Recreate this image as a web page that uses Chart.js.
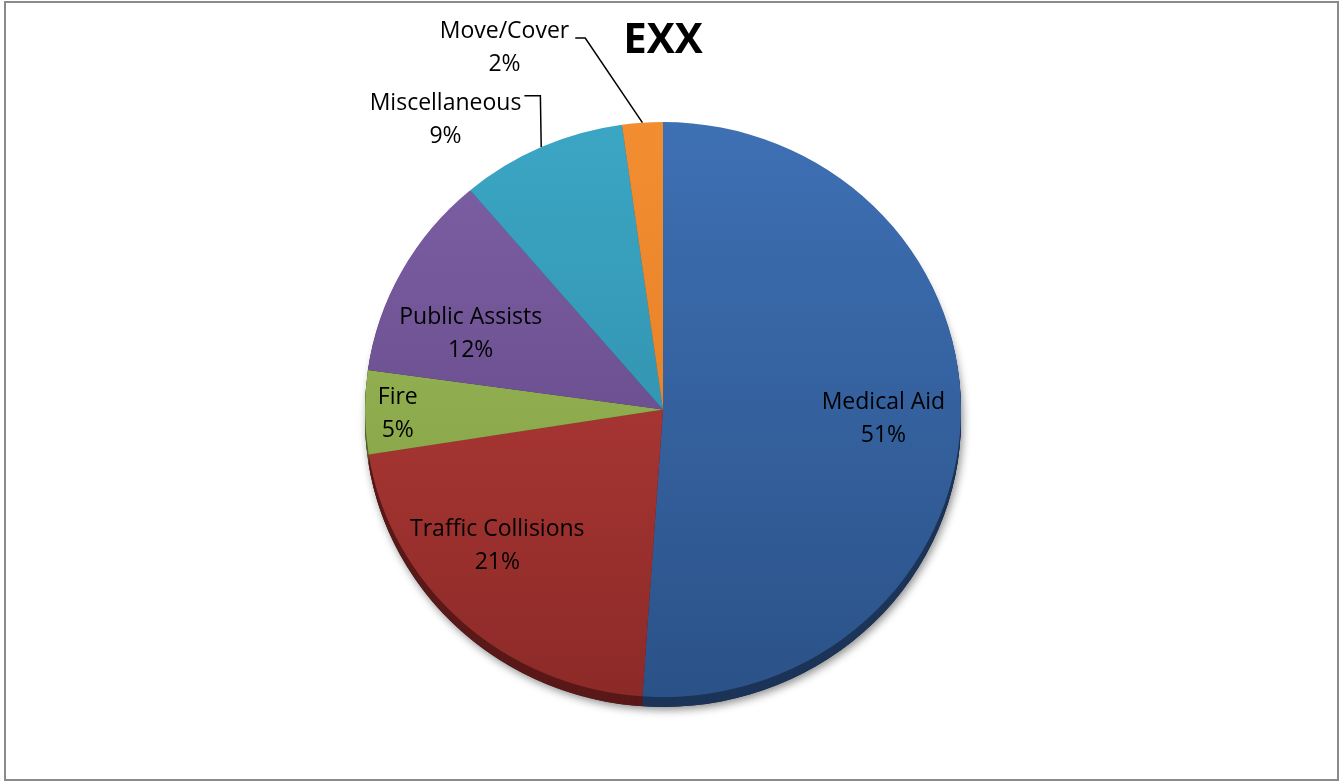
<!DOCTYPE html>
<html>
<head>
<meta charset="utf-8">
<script src="https://cdn.jsdelivr.net/npm/chart.js@4.4.1/dist/chart.umd.min.js"></script>
<style>
  html, body { margin: 0; padding: 0; background: #ffffff; }
  #wrap { position: relative; width: 1340px; height: 782px; }
  #frame { position: absolute; left: 4px; top: 1px; width: 1331px; height: 776px; border: 2px solid #8a8a8a; pointer-events: none; }
</style>
</head>
<body>
<div id="wrap">
  <canvas id="c" width="1340" height="782"></canvas>
  <div id="frame"></div>
</div>
<script>
// ---- data ----
const titleText = 'EXX';
const categories = ['Medical Aid', 'Traffic Collisions', 'Fire', 'Public Assists', 'Miscellaneous', 'Move/Cover'];
const shares = [51.1, 21.4, 4.7, 11.6, 9.0, 2.2];

// ---- styles ----
const topColors    = ['#3e70b4', '#bf403c', '#a0bf5c', '#7e61a6', '#3ba6c4', '#f38d31'];
const bottomColors = ['#2b5288', '#8c2a28', '#7c993f', '#5b417e', '#2c86a2', '#dc7a24'];
const rimColors    = ['#1c3458', '#5a1918', '#4f6328', '#3a2852', '#1d5668', '#8e4f17'];
const FLAT = 287.5 / 298;   // vertical squash of the pie (tilted look)
const DEPTH = 10;           // thickness of the pie rim
const labelFont = '23px "Open Sans"';
const lineGap = 33;
const textShift = 2.5;
// angle shift (deg) and radial factor for each label
const labelPlace = [
  { da: 0,     f: 0.74 },
  { da: 7.6,   f: 0.725 },
  { da: 0.2,   f: 0.89 },
  { da: -6,    f: 0.70 },
  { da: -11.6, f: 1.25,  leader: { gap: 3, dy: -8, len: 16 } },
  { da: -18.8, f: 1.375, leader: { gap: 6, dy: 7,  len: 10 } }
];

function squash(ctx, cx, cy) {
  ctx.translate(cx, cy);
  ctx.scale(1, FLAT);
  ctx.translate(-cx, -cy);
}

const pie3d = {
  id: 'pie3d',
  beforeDatasetsDraw(chart) {
    const ctx = chart.ctx;
    const meta = chart.getDatasetMeta(0);
    const a0 = meta.data[0];
    const cx = a0.x, cy = a0.y, r = a0.outerRadius;
    ctx.save();
    ctx.shadowColor = 'rgba(0,0,0,0.45)';
    ctx.shadowBlur = 9;
    ctx.shadowOffsetX = 2;
    ctx.shadowOffsetY = 3;
    ctx.translate(0, DEPTH);
    squash(ctx, cx, cy);
    ctx.fillStyle = '#222';
    ctx.beginPath();
    ctx.arc(cx, cy, r, 0, Math.PI * 2);
    ctx.fill();
    ctx.restore();
    for (let s = DEPTH; s > 0; s -= 1) {
      ctx.save();
      ctx.translate(0, s);
      squash(ctx, cx, cy);
      meta.data.forEach((arc, i) => {
        ctx.fillStyle = rimColors[i];
        ctx.beginPath();
        ctx.moveTo(arc.x, arc.y);
        ctx.arc(arc.x, arc.y, arc.outerRadius, arc.startAngle, arc.endAngle);
        ctx.closePath();
        ctx.fill();
      });
      ctx.restore();
    }
    ctx.save();
    squash(ctx, cx, cy);
  },
  afterDatasetsDraw(chart) {
    const ctx = chart.ctx;
    ctx.restore();
    const meta = chart.getDatasetMeta(0);
    const total = shares.reduce((a, b) => a + b, 0);
    ctx.save();
    ctx.font = labelFont;
    ctx.fillStyle = '#000';
    ctx.textAlign = 'center';
    ctx.textBaseline = 'middle';
    ctx.strokeStyle = '#000';
    ctx.lineWidth = 1.5;
    meta.data.forEach((arc, i) => {
      const p = labelPlace[i];
      const mid = (arc.startAngle + arc.endAngle) / 2;
      const a = mid + p.da * Math.PI / 180;
      const r = arc.outerRadius;
      const x = arc.x + Math.cos(a) * r * p.f;
      const y = arc.y + Math.sin(a) * r * p.f * FLAT;
      const l1 = categories[i];
      const l2 = Math.round(shares[i] / total * 100) + '%';
      const y1 = y - lineGap / 2, y2 = y + lineGap / 2;
      ctx.fillText(l1, x, y1 + textShift);
      ctx.fillText(l2, x, y2 + textShift);
      if (p.leader) {
        const w = ctx.measureText(l1).width;
        const sx = x + w / 2 + p.leader.gap;
        const sy = y1 + textShift + p.leader.dy;
        const ex = arc.x + Math.cos(mid) * r;
        const ey = arc.y + Math.sin(mid) * r * FLAT;
        ctx.beginPath();
        ctx.moveTo(sx, sy);
        ctx.lineTo(sx + p.leader.len, sy);
        ctx.lineTo(ex, ey);
        ctx.stroke();
      }
    });
    ctx.restore();
  }
};

function faceColor(c) {
  const i = c.dataIndex;
  const area = c.chart.chartArea;
  if (!area) return topColors[i];
  const g = c.chart.ctx.createLinearGradient(0, area.top, 0, area.bottom);
  g.addColorStop(0, topColors[i]);
  g.addColorStop(1, bottomColors[i]);
  return g;
}

new Chart(document.getElementById('c'), {
  type: 'pie',
  data: {
    labels: categories,
    datasets: [{
      data: shares,
      backgroundColor: faceColor,
      borderWidth: 0,
      hoverOffset: 0
    }]
  },
  plugins: [pie3d],
  options: {
    responsive: false,
    animation: false,
    events: [],
    layout: { padding: { left: 365, right: 379, top: 0, bottom: 74.5 } },
    plugins: {
      legend: { display: false },
      tooltip: { enabled: false },
      title: {
        display: true,
        text: titleText,
        color: '#000',
        font: { family: '"Open Sans"', size: 42, weight: 'bold', lineHeight: 1.2 },
        padding: { top: 16, bottom: 45.1 }
      }
    }
  }
});
</script>
</body>
</html>
